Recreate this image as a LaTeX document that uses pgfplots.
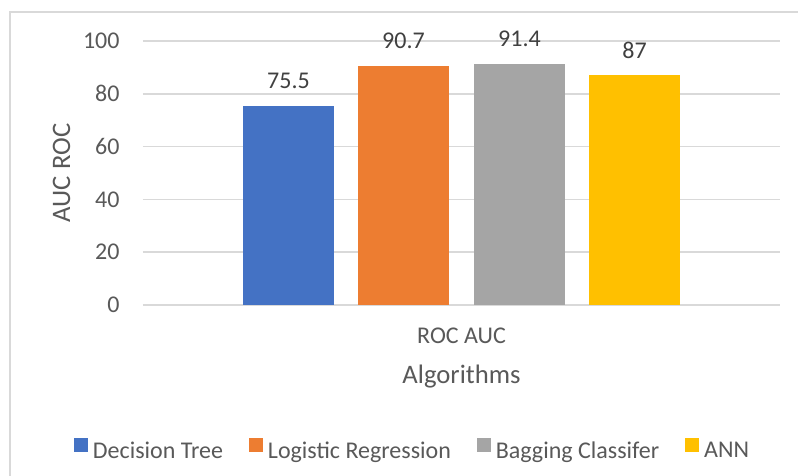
\documentclass[border=0pt]{standalone}
\usepackage{pgfplots}
\pgfplotsset{compat=1.18}
\usepackage{fontspec}
\setmainfont{Carlito}
\definecolor{cblue}{HTML}{4472C4}
\definecolor{corange}{HTML}{ED7D31}
\definecolor{cgray}{HTML}{A5A5A5}
\definecolor{cyellow}{HTML}{FFC000}
\definecolor{gridc}{HTML}{D9D9D9}
\definecolor{txt}{HTML}{595959}
\definecolor{lbl}{HTML}{404040}
\begin{document}
\begin{tikzpicture}
\useasboundingbox (-53.625pt,-63.75pt) rectangle (245.625pt,114.375pt);
\fill[white] (-53.625pt,-63.75pt) rectangle (245.625pt,114.375pt);
\draw[gridc, line width=0.5pt] (-49.875pt,-70pt) rectangle (250pt,109.875pt);
\begin{axis}[
  at={(0pt,0pt)}, anchor=south west,
  scale only axis, width=238.875pt, height=99pt,
  xmin=143, xmax=780, ymin=0, ymax=100,
  ytick={0,20,40,60,80,100},
  xtick={461.5}, xticklabels={ROC AUC},
  ymajorgrids, grid style={gridc, line width=0.6pt},
  axis line style={draw=none},
  major tick length=0pt,
  /pgf/number format/assume math mode=true,
  tick label style={font=\fontsize{9}{10}\selectfont, text=txt},
  yticklabel style={inner sep=0pt, anchor=east, xshift=-8.6pt},
  xticklabel style={inner sep=0pt, anchor=base, yshift=-14.25pt},
  xlabel={Algorithms}, ylabel={AUC ROC},
  xlabel style={at={(axis description cs:0.5,-0.2955)}, anchor=base, inner sep=0pt, font=\fontsize{10}{12}\selectfont, text=txt},
  ylabel style={at={(axis description cs:-0.128,0.5)}, anchor=center, inner sep=0pt, font=\fontsize{10}{12}\selectfont, text=txt},
  bar width=91, ybar, 
  nodes near coords,
  every node near coord/.append style={font=\fontsize{9}{10}\selectfont, text=lbl, inner sep=0pt, anchor=base, yshift=6.4pt},
  legend columns=4,
  legend style={at={(axis description cs:0.4254,-0.55)}, anchor=center, draw=none, fill=none,
    font=\fontsize{9}{10}\selectfont, text=txt,
    /tikz/every even column/.append style={column sep=7.6pt},
    nodes={inner sep=0pt, inner xsep=2pt}},
  legend image code/.code={\fill[#1, draw=none] (0pt,-0.2pt) rectangle (5.25pt,5.05pt);},
]
\addplot[fill=cblue, draw=none, bar shift=0pt] coordinates {(288.5,75.5)};
\addplot[fill=corange, draw=none, bar shift=0pt] coordinates {(403.5,90.7)};
\addplot[fill=cgray, draw=none, bar shift=0pt] coordinates {(519.5,91.4)};
\addplot[fill=cyellow, draw=none, bar shift=0pt] coordinates {(634.5,87)};
\legend{Decision Tree, Logistic Regression, Bagging Classifer, ANN}
\end{axis}
\end{tikzpicture}
\end{document}
